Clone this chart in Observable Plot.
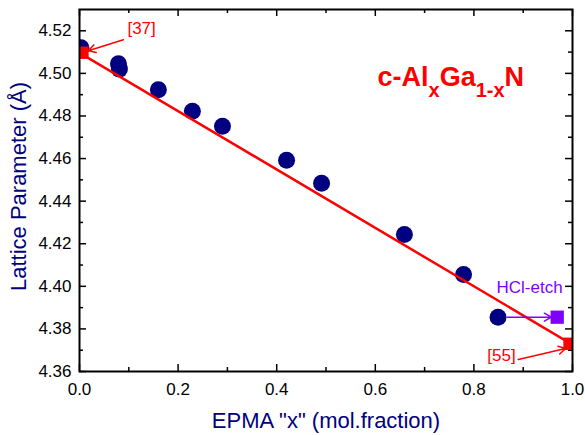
<!DOCTYPE html>
<html><head><meta charset="utf-8">
<script src="https://cdn.jsdelivr.net/npm/d3@7"></script>
<script src="https://cdn.jsdelivr.net/npm/@observablehq/plot@0.6"></script>
<style>body{margin:0;background:#fff}</style>
</head><body><div id="chart"></div>
<script>
// ---- data ----
const epmaX    = [0.003, 0.079, 0.081, 0.160, 0.229, 0.290, 0.420, 0.491, 0.659, 0.779, 0.849];
const latticeA = [4.512, 4.5045, 4.502, 4.4923, 4.4822, 4.4752, 4.4592, 4.4484, 4.4243, 4.4055, 4.3855];
const refX = [0.006, 0.994];
const refA = [4.5097, 4.3730];
const vegardX = [0, 1];
const vegardA = [4.5097, 4.3726];
const etchX = [0.969];
const etchA = [4.3855];
const xTicks = [0.0, 0.2, 0.4, 0.6, 0.8, 1.0];
const xMinor = [0.1, 0.3, 0.5, 0.7, 0.9];
const yTicks = [4.36, 4.38, 4.40, 4.42, 4.44, 4.46, 4.48, 4.50, 4.52];
const yMinor = [4.37, 4.39, 4.41, 4.43, 4.45, 4.47, 4.49, 4.51];
// annotations (data coordinates)
const refLabels = ["[37]", "[55]"];
const refLabelX = [0.126, 0.856];
const refLabelA = [4.5212, 4.3676];
const refArrowX1 = [0.089, 0.890], refArrowA1 = [4.5158, 4.3656];
const refArrowX2 = [0.018, 0.986], refArrowA2 = [4.5106, 4.3708];
const etchLabel = "HCl-etch";
const etchLabelX = 0.980, etchLabelA = 4.3994;
const etchArrowX1 = 0.868, etchArrowX2 = 0.957;
const titleParts = [["c-Al", false], ["x", true], ["Ga", false], ["1-x", true], ["N", false]];
const titleText = titleParts.map(d => d[0]).join("");
const xLabel = 'EPMA "x" (mol.fraction)';
const yLabel = "Lattice Parameter (Å)";

const W = 585, H = 435, mL = 79, mR = 13, mT = 9, mB = 64;
const pH = H - mT - mB, pW = W - mL - mR;
const NAVY = "#000080", RED = "#ff0000", PURPLE = "#8000ff";
const FONT = "Liberation Sans, Arial, Helvetica, sans-serif";

const pts = epmaX.map((x, i) => ({x, a: latticeA[i]}));
const refs = refX.map((x, i) => ({x, a: refA[i]}));
const vegard = vegardX.map((x, i) => ({x, a: vegardA[i]}));
const etch = etchX.map((x, i) => ({x, a: etchA[i]}));
const refLab = refLabels.map((t, i) => ({t, x: refLabelX[i], a: refLabelA[i]}));
const refArr = refArrowX1.map((x1, i) => ({x1, a1: refArrowA1[i], x2: refArrowX2[i], a2: refArrowA2[i]}));

const TK = 1.5;
const plot = Plot.plot({
  width: W, height: H,
  marginLeft: mL, marginRight: mR, marginTop: mT, marginBottom: mB,
  style: {fontFamily: FONT, fontSize: "17px", color: "black", background: "white"},
  x: {domain: [0, 1]},
  y: {domain: [4.36, 4.53]},
  marks: [
    // inward ticks
    Plot.ruleX(xTicks, {x: d => d, insetTop: pH - 7, stroke: "black", strokeWidth: TK}),
    Plot.ruleX(xTicks, {x: d => d, insetBottom: pH - 7, stroke: "black", strokeWidth: TK}),
    Plot.ruleX(xMinor, {x: d => d, insetTop: pH - 4, stroke: "black", strokeWidth: TK}),
    Plot.ruleX(xMinor, {x: d => d, insetBottom: pH - 4, stroke: "black", strokeWidth: TK}),
    Plot.ruleY(yTicks, {y: d => d, insetRight: pW - 7, stroke: "black", strokeWidth: TK}),
    Plot.ruleY(yTicks, {y: d => d, insetLeft: pW - 7, stroke: "black", strokeWidth: TK}),
    Plot.ruleY(yMinor, {y: d => d, insetRight: pW - 4, stroke: "black", strokeWidth: TK}),
    Plot.ruleY(yMinor, {y: d => d, insetLeft: pW - 4, stroke: "black", strokeWidth: TK}),
    Plot.axisX({ticks: xTicks, tickSize: 0, tickPadding: 11, tickFormat: d3.format(".1f"), label: null, fontSize: 17}),
    Plot.axisY({ticks: yTicks, tickSize: 0, tickPadding: 8, tickFormat: d3.format(".2f"), label: null, fontSize: 17}),
    // data
    Plot.dot(pts, {x: "x", y: "a", r: 8.5, fill: NAVY, stroke: "none", clip: true}),
    Plot.line(vegard, {x: "x", y: "a", stroke: RED, strokeWidth: 2.5, clip: true}),
    Plot.arrow([0], {x1: () => etchArrowX1, y1: () => etchA[0], x2: () => etchArrowX2, y2: () => etchA[0], stroke: PURPLE, strokeWidth: 1.5, headLength: 8}),
    Plot.dot(etch, {x: "x", y: "a", symbol: "square", r: 7.5, fill: PURPLE, stroke: "none"}),
    Plot.dot(refs, {x: "x", y: "a", symbol: "square", r: 7, fill: RED, stroke: "none", clip: true}),
    Plot.arrow(refArr, {x1: "x1", y1: "a1", x2: "x2", y2: "a2", stroke: RED, strokeWidth: 1.5, headLength: 8}),
    Plot.text(refLab, {x: "x", y: "a", text: "t", fill: RED, fontSize: 17}),
    Plot.text([etchLabel], {x: () => etchLabelX, y: () => etchLabelA, text: d => d, fill: PURPLE, fontSize: 17, textAnchor: "end"}),
    Plot.text([titleText], {frameAnchor: "top-left", dx: 298, dy: 76, text: d => d, fill: RED, fontSize: 27, fontWeight: "bold", textAnchor: "start", lineAnchor: "bottom"}),
    // axis titles
    Plot.text([xLabel], {frameAnchor: "bottom", dy: 56, text: d => d, fill: NAVY, fontSize: 22, lineAnchor: "bottom", textAnchor: "middle"}),
    Plot.text([yLabel], {frameAnchor: "left", dx: -54, dy: -4, rotate: -90, text: d => d, fill: NAVY, fontSize: 22, lineAnchor: "bottom", textAnchor: "middle"}),
    Plot.frame({stroke: "black", strokeWidth: 2})
  ]
});

// subscripts in the title
d3.select(plot).selectAll("text").filter(function() { return this.textContent === titleText; }).each(function() {
  const t = d3.select(this);
  t.text(null);
  let sub = false;
  titleParts.forEach(([s, isSub]) => {
    const sp = t.append("tspan").text(s);
    if (isSub !== sub) sp.attr("dy", isSub ? 11 : -11);
    if (isSub) sp.attr("font-size", 20);
    sub = isSub;
  });
});
document.getElementById("chart").appendChild(plot);
</script>
</body></html>
